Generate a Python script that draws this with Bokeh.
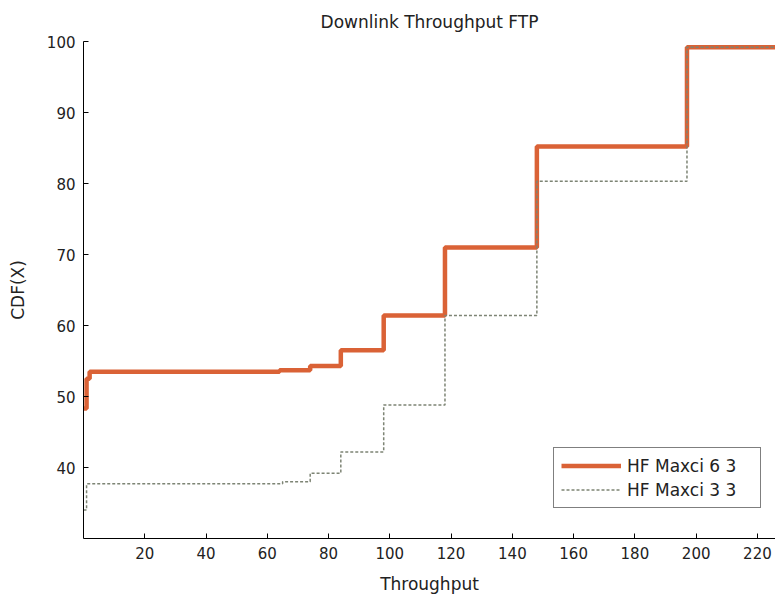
from bokeh.plotting import figure
from bokeh.models import Range1d, FixedTicker, Legend, LegendItem
from bokeh.embed import file_html
from bokeh.resources import INLINE

# Data (step CDFs)
thr_a = [0, 1, 2, 64, 74, 84, 98, 118, 148, 197, 226]
cdf_a = [48.3, 52.5, 53.5, 53.7, 54.3, 56.5, 61.4, 71.0, 85.2, 99.2, 99.2]

thr_b = [0, 1, 65, 74, 84, 98, 118, 148, 197, 226]
cdf_b = [34.0, 37.7, 38.0, 39.2, 42.2, 48.8, 61.4, 80.3, 99.2, 99.2]

x_ticks = [20, 40, 60, 80, 100, 120, 140, 160, 180, 200, 220]
y_ticks = [40, 50, 60, 70, 80, 90, 100]

FONT = "DejaVu Sans"

p = figure(width=775, height=596, output_backend="svg", toolbar_location=None,
           x_range=Range1d(0, 225.9), y_range=Range1d(30, 100),
           min_border_left=83, min_border_right=0, min_border_top=40, min_border_bottom=57,
           title="Downlink Throughput FTP")
p.title.align = "center"
p.title.text_font = FONT
p.title.text_font_size = "17px"
p.title.text_font_style = "normal"
p.title.text_color = "#222222"
p.title.standoff = 19

p.xgrid.visible = False
p.ygrid.visible = False
p.outline_line_color = None
p.background_fill_color = "white"
p.border_fill_color = "white"

for ax, ticks, lab in ((p.xaxis[0], x_ticks, "Throughput"), (p.yaxis[0], y_ticks, "CDF(X)")):
    ax.ticker = FixedTicker(ticks=ticks)
    ax.major_tick_in = 5
    ax.major_tick_out = 0
    ax.minor_tick_in = 0
    ax.minor_tick_out = 0
    ax.axis_line_color = "black"
    ax.major_tick_line_color = "black"
    ax.major_label_text_font = FONT
    ax.major_label_text_font_size = "15px"
    ax.major_label_text_color = "#222222"
    ax.axis_label = lab
    ax.axis_label_text_font = FONT
    ax.axis_label_text_font_size = "17px"
    ax.axis_label_text_font_style = "normal"
    ax.axis_label_text_color = "#222222"

p.xaxis[0].major_label_standoff = 8
p.xaxis[0].axis_label_standoff = 12
p.yaxis[0].major_label_standoff = 8
p.yaxis[0].axis_label_standoff = 16

r_a = p.step(thr_a, cdf_a, mode="after", line_color="#DA6236", line_width=4.5)
r_b = p.step(thr_b, cdf_b, mode="after", line_color="#7D8474", line_width=1.5,
             line_dash="3 2")

legend = Legend(items=[LegendItem(label="HF Maxci 6 3", renderers=[r_a]),
                       LegendItem(label="HF Maxci 3 3", renderers=[r_b])],
                location=(470, 30))
legend.label_text_font = FONT
legend.label_text_font_size = "17px"
legend.label_text_color = "#222222"
legend.glyph_width = 60
legend.label_standoff = 6
legend.label_width = 126
legend.padding = 7
legend.spacing = 3
legend.label_height = 21
legend.glyph_height = 21
legend.border_line_color = "black"
legend.border_line_width = 1
legend.background_fill_alpha = 1
p.add_layout(legend, "center")

open("out.html", "w").write(file_html(p, INLINE))
